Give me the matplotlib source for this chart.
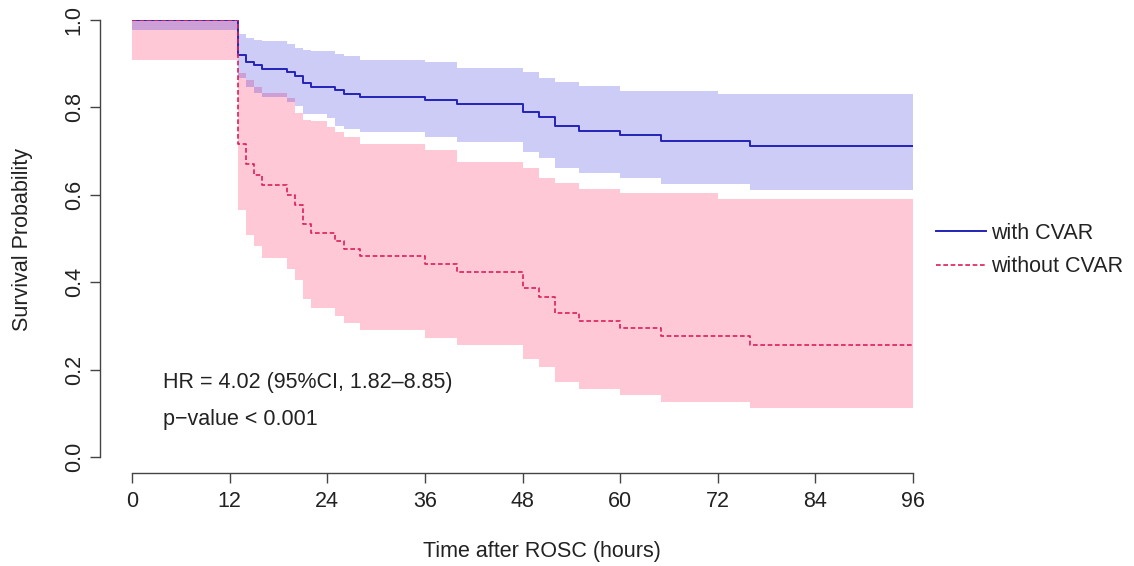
import matplotlib
matplotlib.use("Agg")
import matplotlib.pyplot as plt
import numpy as np

matplotlib.rc("font", **{'family': "sans-serif", 'size': 15.5, 'sans-serif': ["Liberation Sans", "DejaVu Sans"]})

# step times (hours after ROSC); the last one closes the final step
times = [0, 13, 14, 15, 16, 19, 20, 21, 22, 24, 25, 26, 28, 36, 40, 48, 50, 52, 55, 60, 65, 72, 76, 96]

with_surv = [1.0, 0.920, 0.903, 0.896, 0.887, 0.880, 0.872, 0.856, 0.847, 0.847, 0.840, 0.831, 0.823,
             0.816, 0.807, 0.789, 0.778, 0.757, 0.747, 0.736, 0.724, 0.724, 0.712]
with_upper = [1.0, 0.967, 0.958, 0.955, 0.951, 0.944, 0.937, 0.931, 0.928, 0.928, 0.923, 0.918, 0.908,
              0.904, 0.891, 0.882, 0.867, 0.859, 0.848, 0.838, 0.838, 0.830, 0.830]
with_lower = [0.976, 0.867, 0.846, 0.834, 0.823, 0.813, 0.804, 0.785, 0.785, 0.775, 0.758, 0.751, 0.743,
              0.732, 0.720, 0.697, 0.684, 0.661, 0.650, 0.639, 0.625, 0.625, 0.612]

without_surv = [1.0, 0.717, 0.670, 0.645, 0.622, 0.600, 0.577, 0.534, 0.513, 0.513, 0.494, 0.477, 0.460,
                0.442, 0.424, 0.387, 0.367, 0.330, 0.311, 0.295, 0.276, 0.276, 0.257]
without_upper = [1.0, 0.878, 0.863, 0.846, 0.832, 0.821, 0.788, 0.772, 0.770, 0.755, 0.743, 0.732, 0.716,
                 0.702, 0.674, 0.661, 0.639, 0.627, 0.614, 0.604, 0.604, 0.591, 0.591]
without_lower = [0.909, 0.566, 0.509, 0.482, 0.456, 0.431, 0.406, 0.362, 0.342, 0.342, 0.323, 0.307, 0.290,
                 0.273, 0.256, 0.224, 0.205, 0.172, 0.155, 0.142, 0.127, 0.127, 0.113]

x_ticks = [0, 12, 24, 36, 48, 60, 72, 84, 96]
y_ticks = [0.0, 0.2, 0.4, 0.6, 0.8, 1.0]
labels = ["with CVAR", "without CVAR"]


def close_step(values):
    # repeat the last value so the step reaches the final time point
    return np.append(values, values[-1])


W, H = 1134, 566
fig = plt.figure(figsize=(W / 100, H / 100), dpi=100)
ax = fig.add_axes([132 / W, 1 - 457 / H, 781 / W, 437 / H])

ax.fill_between(times, close_step(without_lower), close_step(without_upper), step="post",
                color="#FFC8D6", lw=0)
ax.fill_between(times, close_step(with_lower), close_step(with_upper), step="post",
                color=(0.0, 0.0, 0.85), alpha=0.2, lw=0)
ax.step(times, close_step(with_surv), where="post", color="#2323B8", lw=1.4, label=labels[0])
ax.step(times, close_step(without_surv), where="post", color="#DC1E5A", lw=1.2,
        linestyle=(0, (2.8, 1.6)), label=labels[1])

ax.set_xlim(0, 96)
ax.set_ylim(0, 1)
ax.set_xticks(x_ticks)
ax.set_yticks(y_ticks)
ax.set_yticklabels([f"{v:.1f}" for v in y_ticks])

for side in ("top", "right"):
    ax.spines[side].set_visible(False)
ax.spines["left"].set_position(("outward", 23))
ax.spines["bottom"].set_position(("outward", 11.5))
ax.spines["left"].set_bounds(0, 1)
ax.spines["bottom"].set_bounds(0, 96)
for side in ("left", "bottom"):
    ax.spines[side].set_color("#444444")
    ax.spines[side].set_linewidth(1.0)
ax.tick_params(axis="both", length=7, width=1.0, color="#444444", labelcolor="#222222")
ax.tick_params(axis="x", pad=6)
ax.tick_params(axis="y", pad=4, labelrotation=90)
for lab in ax.get_yticklabels():
    lab.set_va("center")

ax.set_xlabel("Time after ROSC (hours)", color="#222222")
ax.xaxis.set_label_coords(0.525, -0.217)
ax.xaxis.label.set_va("center")
ax.set_ylabel("Survival Probability", color="#222222")
ax.yaxis.set_label_coords(-0.140, 0.497)
ax.yaxis.label.set_va("center")

ax.text(3.8, 0.171, "HR = 4.02 (95%CI, 1.82\u20138.85)", va="center", ha="left", color="#222222")
ax.text(3.8, 0.085, "p\u2212value < 0.001", va="center", ha="left", color="#222222")

ax.legend(loc="upper left", bbox_to_anchor=(936 / W, 1 - 223 / H), bbox_transform=fig.transFigure,
          frameon=False, handlelength=2.3, handletextpad=0.25, labelspacing=0.58, borderpad=0,
          borderaxespad=0, labelcolor="#222222")

fig.savefig("out.png", dpi=100)
